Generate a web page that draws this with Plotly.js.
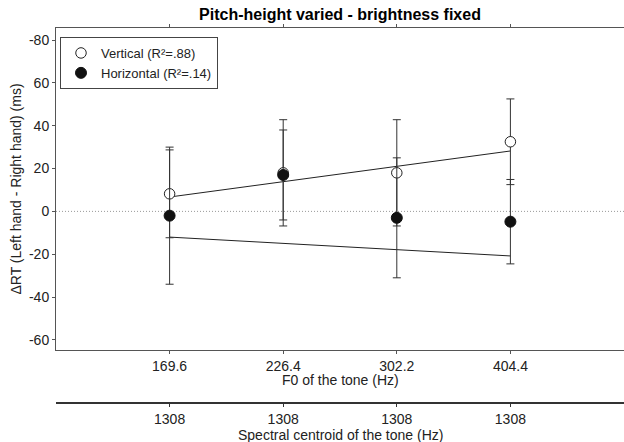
<!DOCTYPE html>
<html>
<head>
<meta charset="utf-8">
<script src="https://cdn.plot.ly/plotly-3.0.1.min.js"></script>
<style>html,body{margin:0;padding:0;background:#fff;}#chart{width:624px;height:442px;}</style>
</head>
<body>
<div id="chart"></div>
<script>
// ---- data ----
const xPos = [1, 2, 3, 4];
const f0Labels = ['169.6', '226.4', '302.2', '404.4'];
const centroidLabels = ['1308', '1308', '1308', '1308'];
const verticalMean = [8.2, 18, 18, 32.5];
const verticalErr = [20.5, 24.8, 24.8, 20];
const horizontalMean = [-2, 17, -3, -4.8];
const horizontalErr = [32, 21, 28, 19.7];
const fitX = [1, 4];
const verticalFit = [6.7, 28.2];
const horizontalFit = [-12, -20.8];
const yTickVals = [-60, -40, -20, 0, 20, 40, 60, 80];
const yTickText = ['-60', '-40', '-20', '0', '20', '40', '60', '-80'];
const seriesNames = ['Vertical (R²=.88)', 'Horizontal (R²=.14)'];

const FONT = '"Liberation Sans", Arial, Helvetica, sans-serif';
const INK = '#222';
const AX = '#555';

const traces = [
  {x: fitX, y: verticalFit, mode: 'lines', line: {color: INK, width: 1}, showlegend: false, hoverinfo: 'skip'},
  {x: fitX, y: horizontalFit, mode: 'lines', line: {color: INK, width: 1}, showlegend: false, hoverinfo: 'skip'},
  {x: xPos, y: verticalMean, name: seriesNames[0], mode: 'markers',
   marker: {symbol: 'circle', size: 10.5, color: '#fff', line: {color: INK, width: 1}},
   error_y: {type: 'data', array: verticalErr, visible: true, color: '#333', thickness: 1, width: 4}},
  {x: xPos, y: horizontalMean, name: seriesNames[1], mode: 'markers',
   marker: {symbol: 'circle', size: 11, color: '#111', line: {color: '#111', width: 1}},
   error_y: {type: 'data', array: horizontalErr, visible: true, color: '#333', thickness: 1, width: 4}},
  // carrier trace so the second (spectral-centroid) axis is drawn
  {x: xPos, y: horizontalMean, xaxis: 'x2', yaxis: 'y', mode: 'markers',
   marker: {size: 1, opacity: 0}, showlegend: false, hoverinfo: 'skip'}
];

const layout = {
  width: 624, height: 442,
  margin: {l: 56, r: 0, t: 28, b: 39},
  paper_bgcolor: '#fff', plot_bgcolor: '#fff',
  font: {family: FONT, size: 14, color: INK},
  title: {text: '<b>Pitch-height varied - brightness fixed</b>', font: {family: FONT, size: 16, color: '#000'},
          x: 340 / 624, xanchor: 'center', y: 1 - 14 / 442, yanchor: 'middle', xref: 'container', yref: 'container'},
  showlegend: true,
  legend: {x: 4 / 568, xanchor: 'left', y: 0.976, yanchor: 'top', bgcolor: '#fff',
           bordercolor: '#444', borderwidth: 1, font: {family: FONT, size: 13, color: INK},
           itemwidth: 30, tracegroupgap: 0},
  xaxis: {range: [0, 5], tickvals: xPos, ticktext: f0Labels, anchor: 'y',
          showgrid: false, zeroline: false, showline: true, linecolor: AX, linewidth: 1,
          mirror: 'ticks', ticks: 'outside', ticklen: 3, tickcolor: AX,
          tickfont: {family: FONT, size: 14, color: INK}},
  xaxis2: {range: [0, 5], tickvals: xPos, ticktext: centroidLabels, overlaying: 'x', anchor: 'free', position: 0,
           side: 'bottom', showgrid: false, zeroline: false, showline: true, linecolor: '#333', linewidth: 2,
           ticks: 'outside', ticklen: 3, tickcolor: '#333',
           tickfont: {family: FONT, size: 14, color: INK}},
  yaxis: {domain: [53 / 375, 1], range: [-64.7, 85.6], tickvals: yTickVals, ticktext: yTickText,
          showgrid: false, zeroline: false, showline: true, linecolor: AX, linewidth: 1,
          ticks: 'outside', ticklen: 3, tickcolor: AX,
          tickfont: {family: FONT, size: 14, color: INK},
          title: {text: 'ΔRT (Left hand - Right hand) (ms)', font: {family: FONT, size: 14, color: INK}, standoff: 4}},
  annotations: [
    {text: 'F0 of the tone (Hz)', xref: 'paper', yref: 'paper', x: 0.5, y: (403 - 380) / 375,
     xanchor: 'center', yanchor: 'middle', showarrow: false, font: {family: FONT, size: 14, color: INK}},
    {text: 'Spectral centroid of the tone (Hz)', xref: 'paper', yref: 'paper', x: 0.5, y: (403 - 434.5) / 375,
     xanchor: 'center', yanchor: 'middle', showarrow: false, font: {family: FONT, size: 14, color: INK}}
  ],
  shapes: [{type: 'line', xref: 'paper', x0: 0, x1: 1, yref: 'y', y0: 0, y1: 0,
            line: {color: '#999', width: 1, dash: '1px,2px'}, layer: 'below'}]
};

Plotly.newPlot('chart', traces, layout, {displayModeBar: false, staticPlot: true});
</script>
</body>
</html>
